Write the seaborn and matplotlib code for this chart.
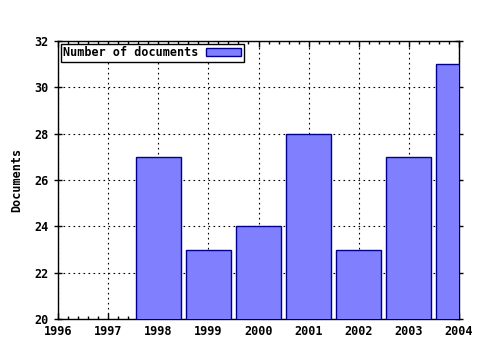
import matplotlib
matplotlib.use("Agg")
import matplotlib.pyplot as plt
import seaborn as sns
import pandas as pd
from matplotlib.ticker import MultipleLocator, AutoMinorLocator

years = [1998, 1999, 2000, 2001, 2002, 2003, 2004]
documents = [27, 23, 24, 28, 23, 27, 31]
series_label = "Number of documents"
y_label = "Documents"

sns.set_style("white")
plt.rcParams['font.family'] = ['DejaVu Sans Mono', 'DejaVu Sans']
plt.rcParams['font.weight'] = 'bold'
plt.rcParams['text.color'] = 'black'
plt.rcParams['axes.labelcolor'] = 'black'
plt.rcParams['xtick.color'] = 'black'
plt.rcParams['ytick.color'] = 'black'

df = pd.DataFrame({"year": years, "docs": documents})

fig = plt.figure(figsize=(4.8, 3.5), dpi=100)
ax = fig.add_axes([58/480, 31/350, (459-58)/480, (319-41)/350])
sns.barplot(data=df, x="year", y="docs", native_scale=True, width=0.9,
            color="#8080ff", saturation=1, edgecolor="#000090", linewidth=1,
            label=series_label, ax=ax, zorder=3)
ax.set_xlim(1996, 2004)
ax.set_ylim(20, 32)
ax.xaxis.set_minor_locator(AutoMinorLocator(5))
ax.yaxis.set_major_locator(MultipleLocator(2))
ax.set_xticks(range(1996, 2005))
ax.set_xticklabels([str(y) for y in range(1996, 2005)])
ax.xaxis.set_minor_locator(AutoMinorLocator(5))
ax.grid(True, which="major", color="black", linestyle=(0, (1.5, 3)), linewidth=0.8, zorder=0)
ax.set_axisbelow(True)
for s in ax.spines.values():
    s.set_color("black")
    s.set_linewidth(1)
    s.set_visible(True)
ax.tick_params(axis="x", which="both", direction="in", top=True, bottom=True,
               length=4, width=1, color="black", labelsize=8.5, pad=4, labelcolor="black")
ax.tick_params(axis="x", which="minor", length=2)
ax.tick_params(axis="y", which="both", direction="inout", left=True, right=True,
               length=6, width=1, color="black", labelsize=8.5, labelcolor="black")
ax.set_xlabel("")
ax.set_ylabel(y_label, fontsize=8.5, fontweight="bold", labelpad=8, color="black")
for lab in ax.get_xticklabels() + ax.get_yticklabels():
    lab.set_fontweight("bold")

leg = ax.legend(loc="upper left", markerfirst=False, fancybox=False, frameon=True,
                borderpad=0.2, handlelength=3.0, handleheight=0.7, handletextpad=0.6,
                borderaxespad=0.25, prop={"size": 8.5, "weight": "bold"})
leg.get_frame().set_edgecolor("black")
leg.get_frame().set_linewidth(1)
leg.get_frame().set_alpha(1)
for t in leg.get_texts():
    t.set_color("black")

fig.savefig("out.png", dpi=100)
